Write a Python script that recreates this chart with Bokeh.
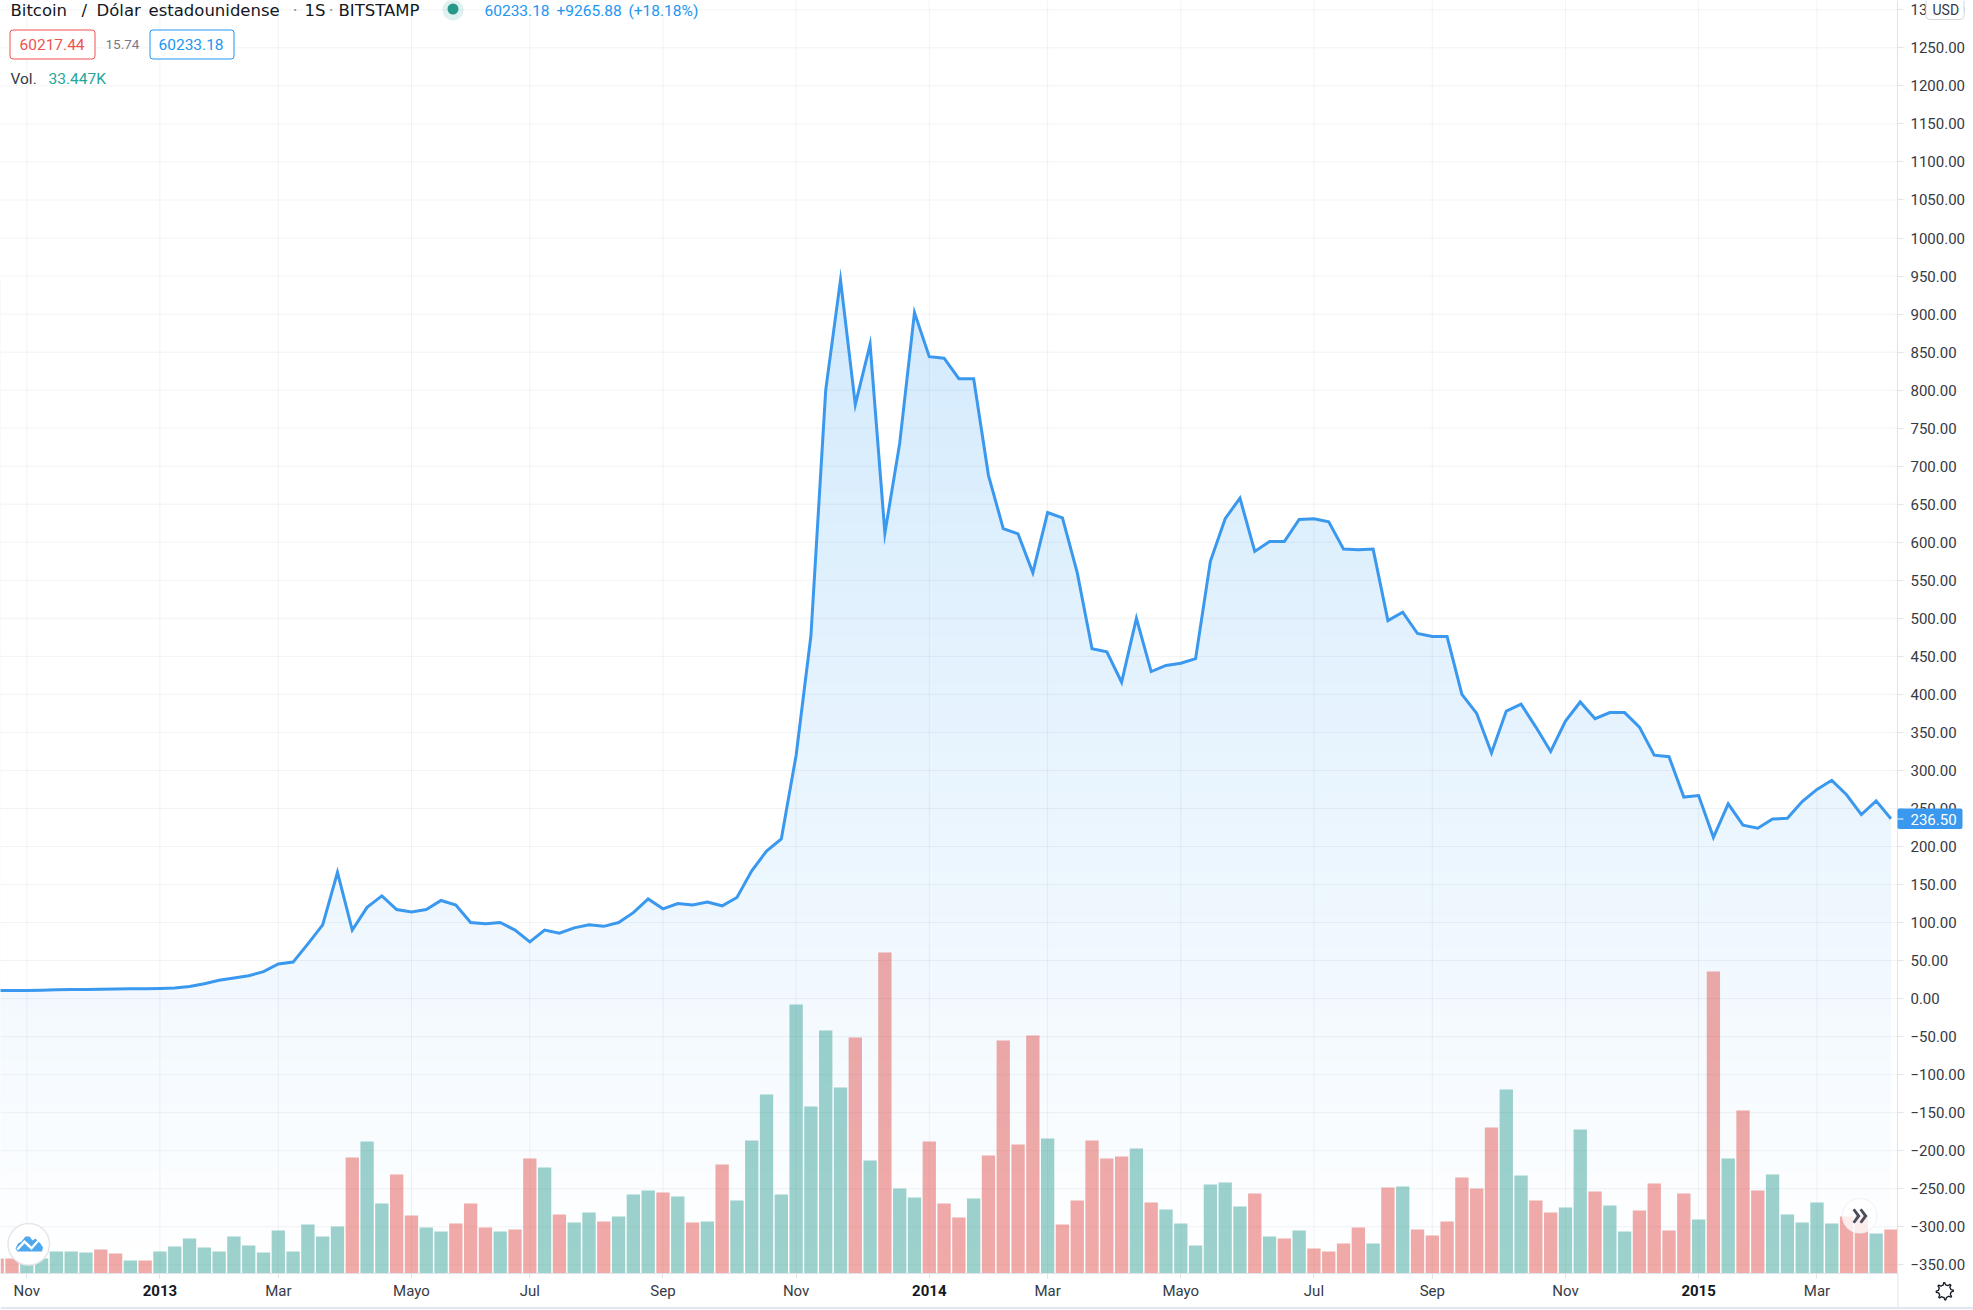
import math
import numpy as np
from bokeh.embed import file_html
from bokeh.resources import INLINE
from bokeh.plotting import figure
from bokeh.models import (Range1d, FixedTicker, Label, BoxAnnotation, PolyAnnotation)

# ---------- data (weekly bars, index 0 .. 128) ----------
price = [10.5, 10.7, 10.8, 11, 11.5, 12, 12, 12.3, 12.5, 13, 13, 13.3, 14, 16, 19.5, 24, 27, 30, 35.5, 45.5,
         48, 72, 97, 166, 90, 120, 135, 117, 114, 117, 129, 123, 100, 98.5, 100, 90, 74.5, 90, 86, 93,
         97, 95, 100, 113, 131, 118, 125, 123, 127, 122, 133, 168, 194, 210, 320, 477, 800, 945, 781, 860,
         612, 730, 902, 844, 842, 815, 815, 688, 618, 611, 560, 639, 632, 560, 460, 456, 416, 500, 430, 438,
         441, 447, 575, 631, 658, 588, 601, 601, 630, 631, 627, 591, 590, 591, 497, 508, 480, 476, 476, 400,
         375, 323, 378, 387, 357, 325, 365, 390, 368, 376, 376, 357, 320, 318, 265, 267, 212, 256, 228, 224,
         236, 237, 259, 275, 287, 268, 242, 260, 236.5]
volume = [15, 15, 15, 15, 22, 22, 21, 24, 20, 13, 13, 22, 27, 35, 26, 22, 37, 28, 21, 43,
          22, 49, 37, 47, 116, 132, 70, 99, 58, 46, 42, 50, 70, 46, 42, 44, 115, 106, 59, 51,
          61, 52, 57, 79, 83, 81, 77, 51, 52, 109, 73, 133, 179, 79, 269, 167, 243, 186, 236, 113,
          321, 85, 76, 132, 70, 56, 75, 118, 233, 129, 238, 135, 49, 73, 133, 115, 117, 125, 71, 64,
          50, 28, 89, 91, 67, 80, 37, 35, 43, 25, 22, 30, 46, 30, 86, 87, 44, 38, 52, 96,
          85, 146, 184, 98, 73, 61, 66, 144, 82, 68, 42, 63, 90, 43, 80, 54, 302, 115, 163, 83,
          99, 59, 51, 71, 50, 57, 58, 40, 44]
vol_color = ("d d t t t t t d d t "
             "d t t t t t t t t t "
             "t t t t d t t d d t "
             "t d d d t d d t d t "
             "t d t t t d t d t d "
             "t t t t t t t t d t "
             "d t t d d d t d d d "
             "d t d d d d d t d t "
             "t t t t t d t d t d "
             "d d d t d t d d d d "
             "d d t t d d t t d t "
             "t d d d d t d t d d "
             "t t t t t d d t d").split()
x_index = list(range(len(price)))

x_tick_pos = [2, 11, 19, 28, 36, 45, 54, 63, 71, 80, 89, 97, 106, 115, 123]
x_tick_lab = ["Nov", "2013", "Mar", "Mayo", "Jul", "Sep", "Nov", "2014", "Mar", "Mayo", "Jul", "Sep", "Nov", "2015", "Mar"]
y_ticks = list(range(-350, 1350, 50))
y_labels = {v: (f"{v:.2f}" if v >= 0 else f"\u2212{-v:.2f}") for v in y_ticks}

# ---------- styles ----------
W, H = 1973, 1310
FONT = "Roboto"
HEAD = "DejaVu Sans"
BORDER = "#e0e3eb"
TEXT = "#363a45"
BLUE = "#2196f3"
LINE = "#3a98ee"
TEAL = "#26a69a"
RED = "#ef5350"
BAR_TEAL = "#2e9d92"
BAR_RED = "#df4a46"

# scale windows: pane (x 0.223..128.44, price -361.4..1312.3), whole canvas a little wider
X_L, X_R, X_END = 0.223, 128.44, 133.58
Y_B, Y_T, Y_END = -361.4, 1312.3, -410.1

p = figure(width=W, height=H, output_backend="svg", toolbar_location=None,
           x_range=Range1d(X_L, X_END), y_range=Range1d(Y_END, Y_T),
           y_axis_location="right", min_border=0, min_border_left=0, min_border_top=0,
           min_border_right=0, min_border_bottom=0,
           background_fill_color="white", border_fill_color="white", outline_line_color=None)
p.extra_y_ranges = {"vol": Range1d(-37, 1273)}
p.grid.visible = False

# gradient body below the line: vertical ramp, then white above the line
top_price = max(price)
ramp_h = 256
A0 = 0.20
ramp = np.zeros((ramp_h, 1), dtype=np.uint32)
for r in range(ramp_h):
    a = A0 * r / (ramp_h - 1)
    c = [round(255 + (v - 255) * a) for v in (33, 150, 243)]
    ramp[r, 0] = (255 << 24) | (c[2] << 16) | (c[1] << 8) | c[0]
p.image_rgba(image=[ramp], x=-1, y=Y_B, dw=129, dh=top_price - Y_B, level="image")
p.varea(x=x_index, y1=price, y2=[Y_T] * len(price), fill_color="white", level="image")

# grid lines, limited to the pane
p.segment(x0=x_tick_pos, x1=x_tick_pos, y0=[Y_B] * len(x_tick_pos), y1=[Y_T] * len(x_tick_pos),
          line_color="#2a2e39", line_alpha=0.06, line_width=1)
p.segment(x0=[X_L] * len(y_ticks), x1=[X_R] * len(y_ticks), y0=y_ticks, y1=y_ticks,
          line_color="#2a2e39", line_alpha=0.06, line_width=1)

# volume bars
bar_colors = [BAR_TEAL if c == "t" else BAR_RED for c in vol_color]
p.vbar(x=x_index, top=volume, bottom=0, width=0.9, y_range_name="vol",
       fill_color=bar_colors, fill_alpha=0.47, line_color=None)

# price line
p.line(x_index, price, line_color=LINE, line_width=3, line_join="miter")

# axes (held at the pane edges)
ax = p.yaxis[0]
ax.fixed_location = X_R
ax.bounds = (Y_B, Y_T)
ax.ticker = FixedTicker(ticks=y_ticks)
ax.major_label_overrides = y_labels
ax.major_label_text_font = FONT
ax.major_label_text_font_size = "15px"
ax.major_label_text_color = TEXT
ax.major_label_standoff = 7
ax.major_tick_in = 0
ax.major_tick_out = 6
ax.minor_tick_line_color = None
ax.major_tick_line_color = BORDER
ax.axis_line_color = BORDER

bx = p.xaxis[0]
bx.fixed_location = Y_B
bx.bounds = (X_L, X_R)
bx.ticker = FixedTicker(ticks=x_tick_pos)
bx.major_label_overrides = {pos: ("" if lab.isdigit() else lab) for pos, lab in zip(x_tick_pos, x_tick_lab)}
bx.major_label_text_font = FONT
bx.major_label_text_font_size = "15px"
bx.major_label_text_color = TEXT
bx.major_label_standoff = 4
bx.major_tick_in = 0
bx.major_tick_out = 5
bx.minor_tick_line_color = None
bx.major_tick_line_color = BORDER
bx.axis_line_color = BORDER


def sy(y):
    return H - y


def txt(x, y, s, color=TEXT, size="15px", style="normal", align="left", font=FONT):
    p.add_layout(Label(x=x, y=sy(y), x_units="screen", y_units="screen", text=s, text_color=color,
                       text_font=font, text_font_size=size, text_font_style=style,
                       text_align=align, text_baseline="middle"))


def box(l, t, r, b, fill=None, line=None, lw=1, radius=0, falpha=1.0):
    p.add_layout(BoxAnnotation(left=l, right=r, top=sy(t), bottom=sy(b),
                               left_units="screen", right_units="screen",
                               top_units="screen", bottom_units="screen",
                               fill_color=fill, fill_alpha=falpha if fill else 0,
                               line_color=line, line_width=lw, line_alpha=1 if line else 0,
                               border_radius=int(radius), level="annotation"))


def poly(pts, fill=None, line=None, lw=1):
    p.add_layout(PolyAnnotation(xs=[a for a, _ in pts], ys=[sy(b) for _, b in pts],
                                xs_units="screen", ys_units="screen",
                                fill_color=fill, fill_alpha=1 if fill else 0,
                                line_color=line, line_width=lw, line_alpha=1 if line else 0,
                                level="annotation"))


# year labels in bold on the time axis
for pos, lab in zip(x_tick_pos, x_tick_lab):
    if lab.isdigit():
        p.add_layout(Label(x=pos, y=sy(1290), x_units="data", y_units="screen", text=lab, text_color="#131722",
                           text_font=FONT, text_font_size="15px", text_font_style="bold",
                           text_align="center", text_baseline="middle"))

# axis frame extras
box(1897, 1273, 1898, 1308, fill=BORDER)
box(0, 1306.5, W, 1308.5, fill="#e3e6ef")

# USD badge covering the top tick
box(1925.5, -6, 1963.5, 19, fill="white", line="#d6d8e0", radius=4)
txt(1932, 9, "USD", size="14px")

# last price tag
box(1897, 808, 1962, 828.5, fill=LINE, radius=2)
box(1897, 818, 1903, 819, fill="white")
txt(1910, 818.5, "236.50", color="white", size="15px")

# legend header
HC = "#131722"
txt(10, 10, "Bitcoin", color=HC, size="16.5px", font=HEAD)
txt(81, 10, "/", color=HC, size="16.5px", font=HEAD)
txt(96, 10, "D\u00f3lar", color=HC, size="16.5px", font=HEAD)
txt(148, 10, "estadounidense", color=HC, size="16.5px", font=HEAD)
txt(292, 10, "\u00b7", color="#9598a1", size="16.5px", font=HEAD)
txt(304, 10, "1S", color=HC, size="16.5px", font=HEAD)
txt(328, 10, "\u00b7", color="#9598a1", size="16.5px", font=HEAD)
txt(338, 10, "BITSTAMP", color=HC, size="16.5px", font=HEAD)
box(442, -1, 463, 20, fill=TEAL, falpha=0.15, radius=10)
box(447, 3, 458, 14, fill="#26998a", radius=6)
txt(484, 10, "60233.18", color=BLUE, size="15.5px")
txt(556, 10, "+9265.88", color=BLUE, size="15.5px")
txt(628, 10, "(+18.18%)", color=BLUE, size="15.5px")
box(9.5, 29.5, 94.5, 58.5, fill="white", line=RED, radius=3)
txt(19, 44, "60217.44", color=RED, size="15.5px")
txt(105, 44, "15.74", color="#787b86", size="13.5px")
box(149.5, 29.5, 233.5, 58.5, fill="white", line=BLUE, radius=3)
txt(158, 44, "60233.18", color=BLUE, size="15.5px")
txt(10, 78, "Vol.", color=TEXT, size="15.5px")
txt(48, 78, "33.447K", color=TEAL, size="15.5px")

# logo button
box(7.5, 1223, 49, 1264.5, fill="white", line="#e4e6ea", lw=1.5, radius=21)
poly([(15, 1248), (17.5, 1243), (21, 1241), (25, 1236), (29, 1236), (32, 1240), (35, 1238),
      (38, 1241), (40, 1243), (42.5, 1247), (41.5, 1251), (17, 1251)], fill="#4ea8ef")
poly([(16, 1248), (24, 1239.5), (31, 1246), (37, 1239.5), (38.5, 1241), (31, 1249.5), (24, 1243), (17.5, 1250)],
     fill="white")

# scroll-to-latest button
box(1842, 1198, 1876.5, 1232.5, fill="white", falpha=0.78, line="#f1f1f4", lw=1, radius=17)
for dx in (0, 7):
    poly([(1852 + dx, 1209.5), (1854.3 + dx, 1208), (1860 + dx, 1215.5), (1854.3 + dx, 1223), (1852 + dx, 1221.5),
          (1856.3 + dx, 1215.5)], fill="#4a4e5c")

# settings gear
gx, gy = 1944.3, 1290.7
gear = []
for k in range(48):
    ang = 2 * math.pi * k / 48
    rad = 8.6 if (k % 6) in (0, 5) else 6.3
    gear.append((gx + rad * math.cos(ang), gy + rad * math.sin(ang)))
poly(gear, line="#131722", lw=1.3)

open("out.html", "w").write(file_html(p, INLINE))
